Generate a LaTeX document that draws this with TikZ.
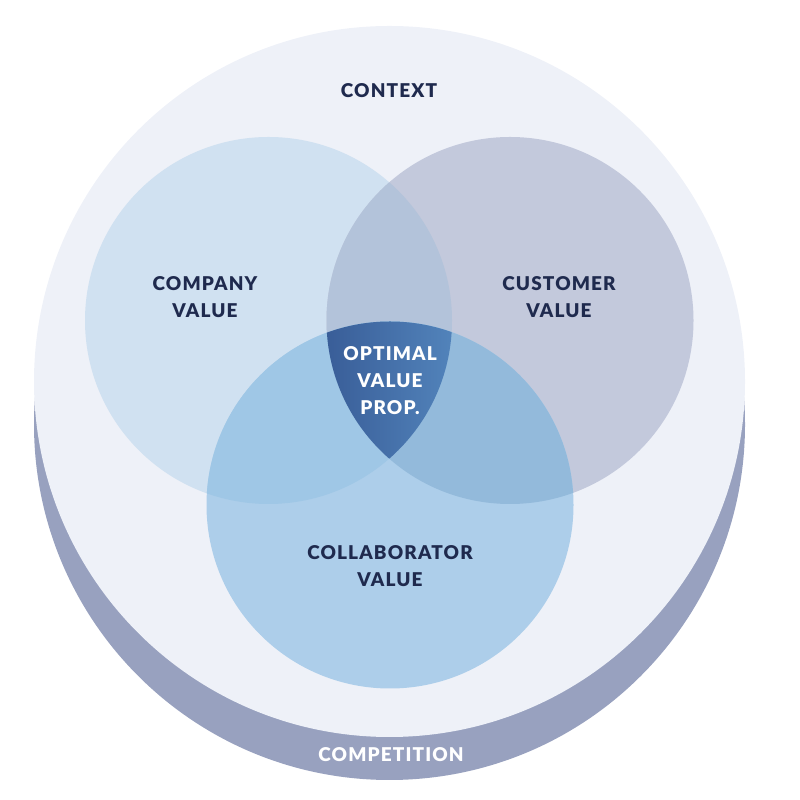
\documentclass[tikz,border=0pt]{standalone}
\usepackage{fontspec}
\setmainfont{Lato}[BoldFont={Lato Black}]
\definecolor{ctxbg}{HTML}{EEF1F8}
\definecolor{compbg}{HTML}{98A1BF}
\definecolor{cpnybg}{HTML}{D0E1F1}
\definecolor{custbg}{HTML}{C3C9DC}
\definecolor{collbg}{HTML}{ADCEEA}
\definecolor{cpcubg}{HTML}{B3C3DA}
\definecolor{cpclbg}{HTML}{9FC7E6}
\definecolor{cuclbg}{HTML}{93BADB}
\definecolor{optdark}{HTML}{2D4B87}
\definecolor{optlight}{HTML}{5E96CC}
\definecolor{navytext}{HTML}{1F2A4E}
\def\myrad{183.5}
\def\myouter{355.5}
\tikzset{
x=0.02cm, y=0.02cm,
venn text/.style={font=\bfseries\fontsize{10.8}{15.3}\selectfont\addfontfeature{LetterSpace=6},
  text=navytext,align=center,inner sep=0pt},
venn white/.style={venn text,text=white},
}
\begin{document}
\begin{tikzpicture}
\useasboundingbox (0,0) rectangle (800,800);
\coordinate (ctr) at (389.5,418.5);
\coordinate (sh) at (389.5,375.5);
\coordinate (cp) at (268.5,479.5);
\coordinate (cu) at (510,479.5);
\coordinate (cl) at (390,295);
% context disc with its rim
\fill[compbg] (sh) circle (\myouter);
\fill[ctxbg] (ctr) circle (\myouter);
% the three values
\fill[cpnybg] (cp) circle (\myrad);
\fill[custbg] (cu) circle (\myrad);
\begin{scope}
  \clip (cp) circle (\myrad);
  \fill[cpcubg] (cu) circle (\myrad);
\end{scope}
\fill[collbg] (cl) circle (\myrad);
\begin{scope}
  \clip (cp) circle (\myrad);
  \fill[cpclbg] (cl) circle (\myrad);
\end{scope}
\begin{scope}
  \clip (cu) circle (\myrad);
  \fill[cuclbg] (cl) circle (\myrad);
\end{scope}
\begin{scope}
  \clip (cp) circle (\myrad);
  \clip (cu) circle (\myrad);
  \clip (cl) circle (\myrad);
  \shade[left color=optdark,right color=optlight,rotate around={-35:(390,410)}]
    (300,320) rectangle (480,500);
\end{scope}
\node[venn text] (context) at (389,709.5) {CONTEXT};
\node[venn text] (company) at (205,502.5) {COMPANY\\VALUE};
\node[venn text] (customer) at (559,502.5) {CUSTOMER\\VALUE};
\node[venn white] (optimal) at (390,419.5) {OPTIMAL\\VALUE\\PROP.};
\node[venn text] (collab) at (390,233.5) {COLLABORATOR\\VALUE};
\node[venn white] (competition) at (391,45) {COMPETITION};
\end{tikzpicture}
\end{document}
